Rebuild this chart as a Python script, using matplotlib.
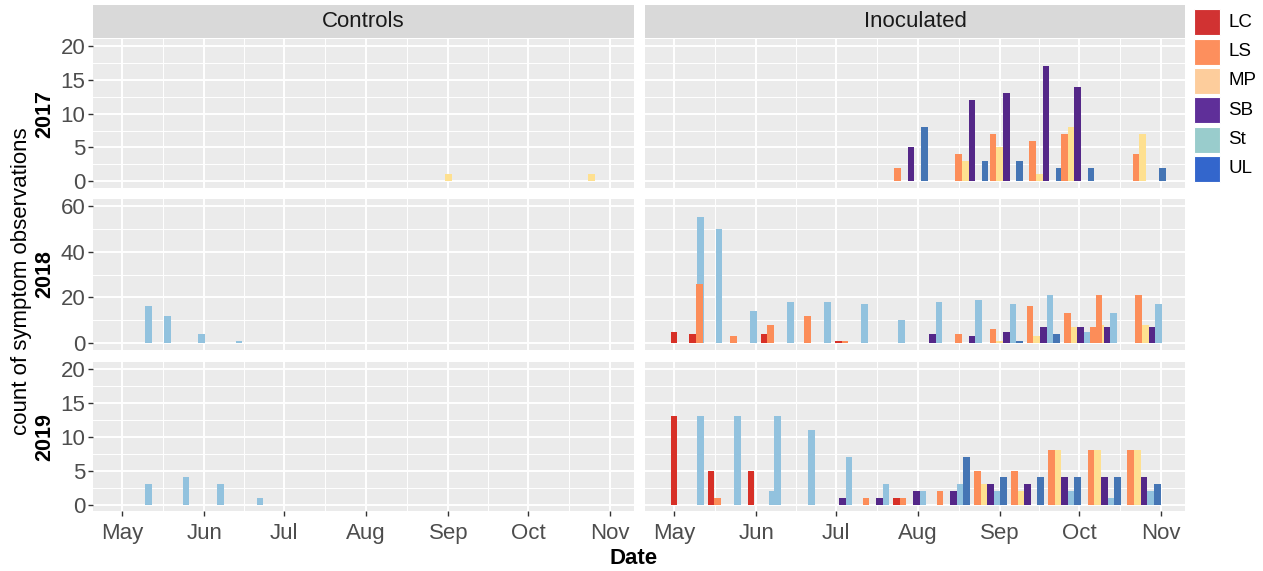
import datetime as dt
import matplotlib
matplotlib.use("Agg")
import matplotlib.pyplot as plt
import matplotlib.dates as mdates
from matplotlib.patches import Rectangle

plt.rcParams["font.family"] = ["Liberation Sans", "DejaVu Sans"]

# ---- data -------------------------------------------------------------
categories = ["LC", "LS", "MP", "SB", "St", "UL"]
bar_colors = ["#d73027", "#fc8d59", "#fee090", "#542788", "#92c2de", "#4575b4"]
key_colors = ["#d13232", "#fd8f5d", "#fdcd9c", "#5f2f99", "#99cccc", "#3366cc"]

years = ["2017", "2018", "2019"]
treatments = ["Controls", "Inoculated"]
month_labels = ["May", "Jun", "Jul", "Aug", "Sep", "Oct", "Nov"]
year_ticks = [[0, 5, 10, 15, 20], [0, 20, 40, 60], [0, 5, 10, 15, 20]]

# counts per sampling date, columns follow `categories`
ctrl_2017_dates = ["09-01", "10-25"]
ctrl_2017_counts = [[0, 0, 1, 0, 0, 0],
                    [0, 0, 1, 0, 0, 0]]

inoc_2017_dates = ["07-27", "08-19", "09-01", "09-16", "09-28", "10-25"]
inoc_2017_counts = [[0, 2, 0, 5, 0, 8],
                    [0, 4, 3, 12, 0, 3],
                    [0, 7, 5, 13, 0, 3],
                    [0, 6, 1, 17, 0, 2],
                    [0, 7, 8, 14, 0, 2],
                    [0, 4, 7, 0, 0, 2]]

ctrl_2018_dates = ["05-06", "05-13", "05-26", "06-09"]
ctrl_2018_counts = [[0, 0, 0, 0, 16, 0],
                    [0, 0, 0, 0, 12, 0],
                    [0, 0, 0, 0, 4, 0],
                    [0, 0, 0, 0, 1, 0]]

inoc_2018_dates = ["05-06", "05-13", "05-26", "06-09", "06-23", "07-07", "07-21",
                   "08-04", "08-19", "09-01", "09-15", "09-29", "10-09", "10-11",
                   "10-26"]
inoc_2018_counts = [[5, 0, 0, 0, 55, 0],
                    [4, 26, 0, 0, 50, 0],
                    [0, 3, 0, 0, 14, 0],
                    [4, 8, 0, 0, 18, 0],
                    [0, 12, 0, 0, 18, 0],
                    [1, 1, 0, 0, 17, 0],
                    [0, 0, 0, 0, 10, 0],
                    [0, 0, 0, 4, 18, 0],
                    [0, 4, 0, 3, 19, 0],
                    [0, 6, 1, 5, 17, 1],
                    [0, 16, 3, 7, 21, 4],
                    [0, 13, 7, 7, 5, 2],
                    [0, 7, 8, 7, 13, 0],
                    [0, 21, 0, 0, 0, 0],
                    [0, 21, 8, 7, 17, 0]]

ctrl_2019_dates = ["05-06", "05-20", "06-02", "06-17"]
ctrl_2019_counts = [[0, 0, 0, 0, 3, 0],
                    [0, 0, 0, 0, 4, 0],
                    [0, 0, 0, 0, 3, 0],
                    [0, 0, 0, 0, 1, 0]]

inoc_2019_dates = ["05-06", "05-20", "06-02", "06-04", "06-17", "07-01", "07-15",
                   "07-29", "08-12", "08-26", "09-09", "09-23", "10-08", "10-23"]
inoc_2019_counts = [[13, 0, 0, 0, 13, 0],
                    [5, 1, 0, 0, 13, 0],
                    [0, 0, 0, 0, 2, 0],
                    [5, 0, 0, 0, 13, 0],
                    [0, 0, 0, 0, 11, 0],
                    [0, 0, 0, 1, 7, 0],
                    [0, 1, 0, 1, 3, 0],
                    [1, 1, 0, 2, 2, 0],
                    [0, 2, 0, 2, 3, 7],
                    [0, 5, 3, 3, 2, 4],
                    [0, 5, 2, 3, 0, 4],
                    [0, 8, 8, 4, 2, 4],
                    [0, 8, 8, 4, 1, 4],
                    [0, 8, 8, 4, 2, 3]]

panels = {
    ("2017", "Controls"): (ctrl_2017_dates, ctrl_2017_counts),
    ("2017", "Inoculated"): (inoc_2017_dates, inoc_2017_counts),
    ("2018", "Controls"): (ctrl_2018_dates, ctrl_2018_counts),
    ("2018", "Inoculated"): (inoc_2018_dates, inoc_2018_counts),
    ("2019", "Controls"): (ctrl_2019_dates, ctrl_2019_counts),
    ("2019", "Inoculated"): (inoc_2019_dates, inoc_2019_counts),
}

# ---- layout -----------------------------------------------------------
W, H = 1263, 571
fig = plt.figure(figsize=(W / 100, H / 100), dpi=100)


def px_box(x0, y0, x1, y1):
    return [x0 / W, 1 - y1 / H, (x1 - x0) / W, (y1 - y0) / H]


def to_num(md):
    m, d = md.split("-")
    return mdates.date2num(dt.date(2018, int(m), int(d)))


col_x = [(93, 634), (645, 1185)]
row_y = [(39.2, 188.0), (199.2, 349.8), (361.8, 511.4)]

month_starts = [mdates.date2num(dt.date(2018, m, 1)) for m in range(5, 12)]
month_mids = [(a + b) / 2 for a, b in zip(month_starts[:-1], month_starts[1:])]
xlim = (month_starts[0] - 11, month_starts[-1] + 9)
slot = 2.5  # days per dodged bar

for r, year in enumerate(years):
    ticks = year_ticks[r]
    top = ticks[-1]
    mids = [(a + b) / 2 for a, b in zip(ticks[:-1], ticks[1:])]
    for c, treat in enumerate(treatments):
        ax = fig.add_axes(px_box(col_x[c][0], row_y[r][0], col_x[c][1], row_y[r][1]))
        ax.set_facecolor("#ebebeb")
        for s in ax.spines.values():
            s.set_visible(False)
        ax.set_axisbelow(True)

        dates, counts = panels[(year, treat)]
        for md, row in zip(dates, counts):
            x0 = to_num(md)
            xs = [x0 + (k - 2.5) * slot + slot / 2 for k in range(len(categories))]
            ax.bar(xs, row, width=slot, color=bar_colors, linewidth=0)

        ax.set_xlim(*xlim)
        ax.set_ylim(-0.05 * top, 1.05 * top)
        ax.set_xticks(month_starts)
        ax.set_xticks(month_mids, minor=True)
        ax.set_yticks(ticks)
        ax.set_yticks(mids, minor=True)
        ax.grid(which="major", color="white", lw=1.4)
        ax.grid(which="minor", color="white", lw=0.7)
        ax.tick_params(which="minor", length=0)
        ax.tick_params(which="major", length=3.5, width=1.0, color="#333333",
                       labelcolor="#4d4d4d", labelsize=16, pad=2)
        ax.tick_params(axis="x", pad=5)
        if r == 2:
            ax.set_xticklabels(month_labels)
        else:
            ax.tick_params(axis="x", length=0, labelbottom=False)
        if c != 0:
            ax.tick_params(axis="y", length=0, labelleft=False)

# facet strips
for c, treat in enumerate(treatments):
    sx = fig.add_axes(px_box(col_x[c][0], 5, col_x[c][1], 38))
    sx.set_facecolor("#d9d9d9")
    sx.set_xticks([])
    sx.set_yticks([])
    for s in sx.spines.values():
        s.set_visible(False)
    sx.text(0.5, 0.5, treat, transform=sx.transAxes, ha="center", va="center",
            fontsize=16, color="#1a1a1a")

# overlay in pixel coordinates for titles and legend
ov = fig.add_axes([0, 0, 1, 1], zorder=-1)
ov.set_xlim(0, W)
ov.set_ylim(H, 0)
ov.axis("off")

ov.text(22, 281, "count of symptom observations", rotation=90, ha="center",
        va="center", fontsize=16, color="black")
for r, year in enumerate(years):
    ov.text(45, (row_y[r][0] + row_y[r][1]) / 2, year, rotation=90, ha="center",
            va="center", fontsize=15.5, fontweight="bold", color="black")
ov.text(634, 559, "Date", ha="center", va="center", fontsize=16,
        fontweight="bold", color="black")

for i, (cat, col) in enumerate(zip(categories, key_colors)):
    ktop = 9.3 + 29.3 * i
    ov.add_patch(Rectangle((1194, ktop), 26, 26, facecolor=col,
                           edgecolor="white", lw=0.8))
    ov.text(1228, ktop + 13, cat, ha="left", va="center", fontsize=13.5,
            color="black")

fig.savefig("out.png", dpi=100)
